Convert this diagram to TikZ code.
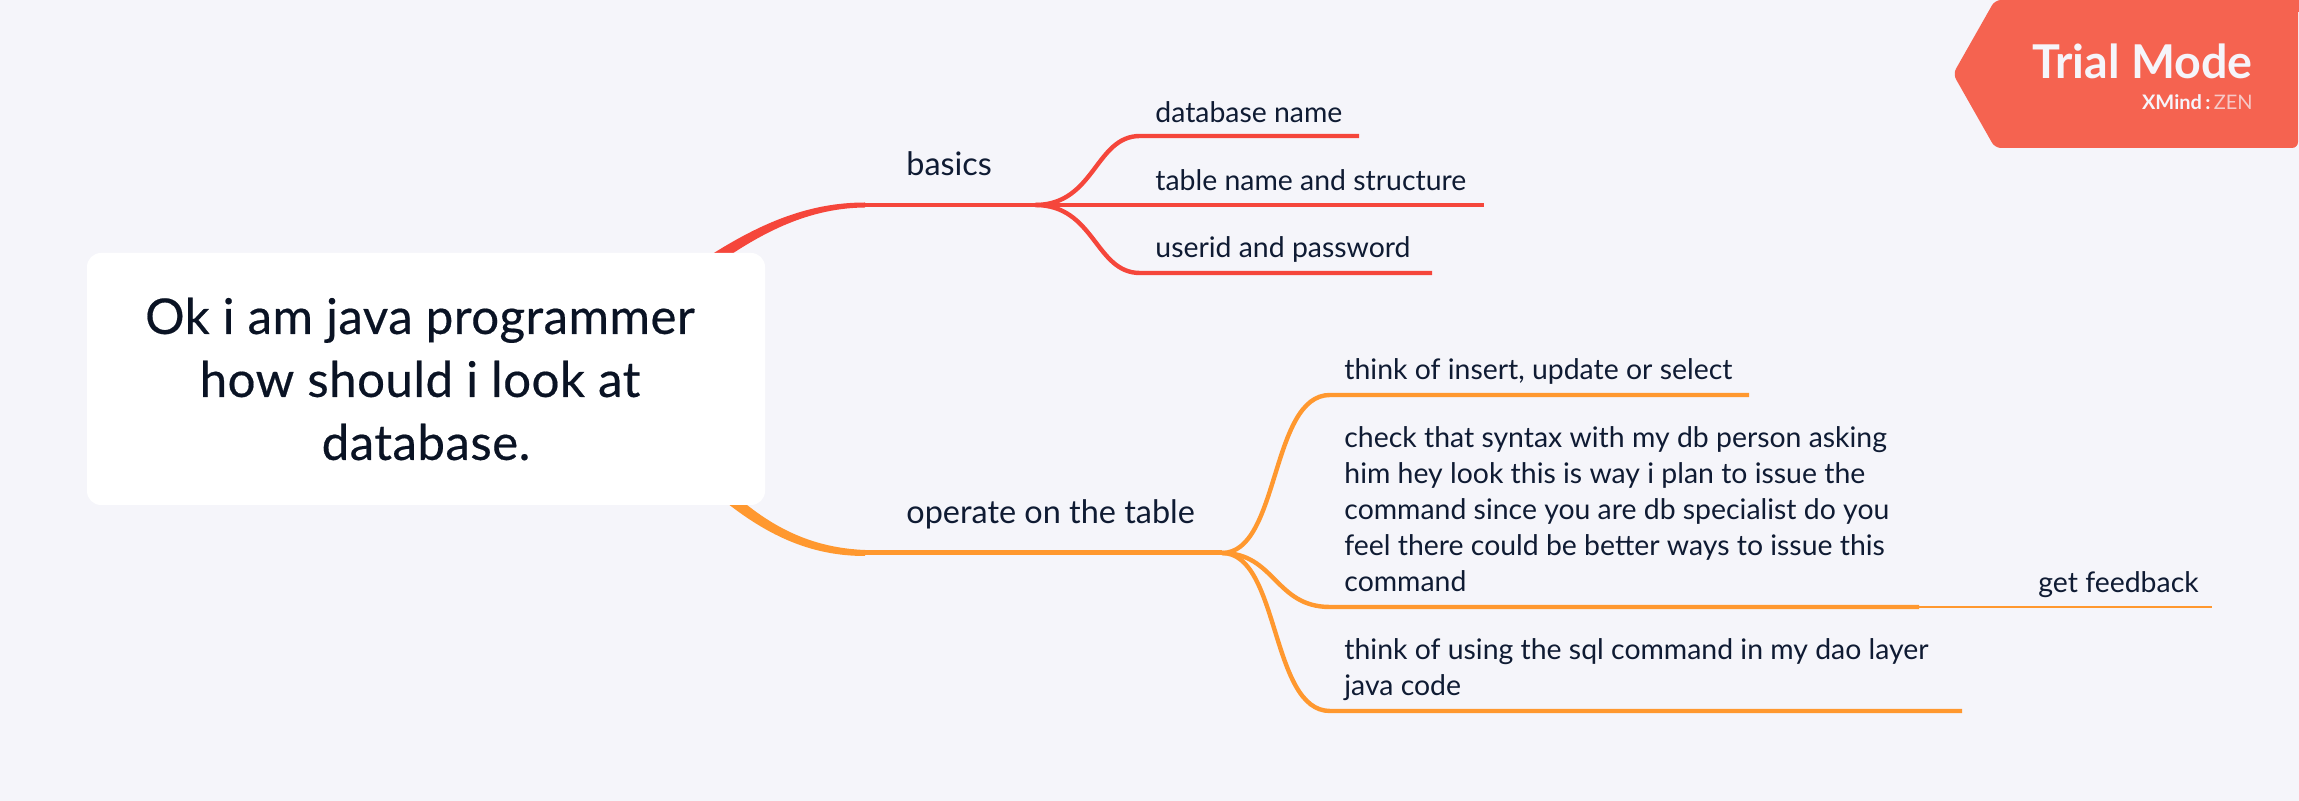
\documentclass[tikz,border=0pt]{standalone}
\usepackage{fontspec}
\setmainfont{Lato}
\definecolor{bgc}{HTML}{F5F5FA}
\definecolor{redb}{HTML}{F5463B}
\definecolor{orab}{HTML}{FF982F}
\definecolor{txt}{HTML}{0F1B33}
\definecolor{flag}{HTML}{F56350}
\tikzset{
  lab/.style={anchor=base west,inner sep=0pt,text=txt,font=\fontsize{14.2}{18}\selectfont,align=left},
  para/.style={lab,anchor=west},
  top/.style={lab,font=\fontsize{16.2}{18}\selectfont},
  redl/.style={draw=redb,line width=2.2pt},
  oral/.style={draw=orab,line width=2.2pt},
  thinl/.style={draw=orab,line width=1pt},
}
\begin{document}
\begin{tikzpicture}[x=0.5pt,y=-0.5pt]
\useasboundingbox (0,0) rectangle (2299,801);
\fill[bgc] (0,0) rectangle (2299,801);
% tapered main branches
\coordinate (bs) at (865,205);
\coordinate (bj) at (1035,205);
\coordinate (os) at (865,553);
\coordinate (oj) at (1222,553);
\fill[redb] (700,262) .. controls (760,222) and (810,202.5) .. (865,202.5) -- (865,207.5) .. controls (815,208) and (770,227) .. (720,262) -- cycle;
\fill[orab] (717,495) .. controls (765,535) and (810,556) .. (865,556) -- (865,550) .. controls (815,548) and (775,530) .. (735,495) -- cycle;
% root
\node[fill=white,rounded corners=7pt,minimum width=339pt,minimum height=126pt,inner sep=0pt,
  text=txt!70!black,font=\fontsize{24.6}{31.5}\selectfont\addfontfeatures{LetterSpace=1,FakeBold=0.4},align=center] (root) at (426,379)
  {Ok i am java programmer\hspace*{6pt}\mbox{}\\how should i look at\hspace*{6pt}\mbox{}\\database.};
% level 1
\node[top] (basics) at (906,176) {basics};
\node[top] (operate) at (906,524) {operate on the table};
\draw[redl] (bs) -- (bj);
\draw[oral,line width=2.5pt] (os) -- (oj);
% basics children
\node[lab] (n1) at (1155,123) {database name};
\node[lab] (n2) at (1155,191) {table name and structure};
\node[lab] (n3) at (1155,258) {userid and password};
\coordinate (e1) at (1359,136);
\coordinate (e2) at (1484,205);
\coordinate (e3) at (1432,273);
\draw[redl] (bj) .. controls (1095,205) and (1095,136) .. (1140,136) -- (e1);
\draw[redl] (bj) -- (e2);
\draw[redl] (bj) .. controls (1095,205) and (1095,273) .. (1140,273) -- (e3);
% operate children
\node[lab] (m1) at (1344,380) {think of insert, update or select};
\node[para] (m2) at (1344,509) {check that syntax with my db person asking\\him hey look this is way i plan to issue the\\command since you are db specialist do you\\feel there could be better ways to issue this\\command};
\node[para] (m3) at (1344,670) {think of using the sql command in my dao layer\\java code};
\node[lab] (m4) at (2038,593) {get feedback};
\coordinate (f1) at (1749,395);
\coordinate (f2) at (1919,607);
\coordinate (f3) at (1962,711);
\coordinate (f4) at (2212,607);
\draw[oral] (oj) .. controls (1280,553) and (1270,395) .. (1330,395) -- (f1);
\draw[oral] (oj) .. controls (1275,553) and (1275,607) .. (1330,607) -- (f2);
\draw[oral] (oj) .. controls (1280,553) and (1270,711) .. (1330,711) -- (f3);
\draw[thinl] (f2) -- (f4);
% trial flag
\fill[flag,rounded corners=3pt] (1953,74) -- (1995,0) -- (2298,0) -- (2298,148) -- (1995,148) -- cycle;
\fill[flag] (2010,0) rectangle (2299,12);
\node[anchor=base east,inner sep=0pt,text=bgc,font=\fontsize{23.3}{28}\selectfont\bfseries] (trial) at (2253,79) {Trial Mode};
\node[anchor=base east,inner sep=0pt,text=bgc,font=\fontsize{10}{11}\selectfont] (zen) at (2253,110) {\textbf{XMind}\,\textbf{:}\,\textcolor{bgc!70!flag}{ZEN}};
\end{tikzpicture}
\end{document}
